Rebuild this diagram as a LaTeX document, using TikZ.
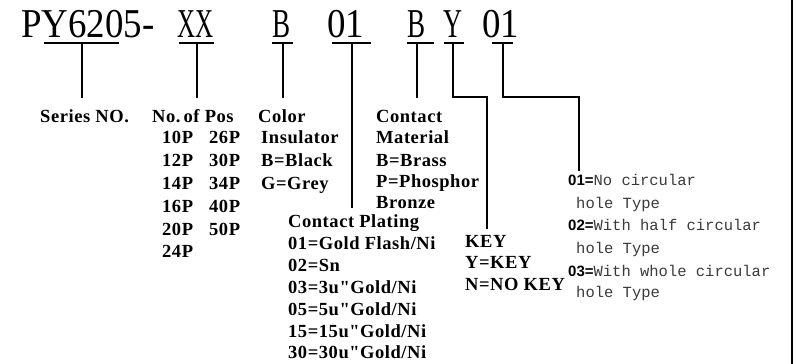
\documentclass[tikz,border=0pt]{standalone}
\usepackage{fontspec}
\setmainfont{Liberation Serif}
\newfontfamily\bodyfont[LetterSpace=3]{Liberation Serif}
\newfontfamily\rmono{Liberation Mono}
\newfontfamily\rsans{Liberation Sans}
\definecolor{rgray}{HTML}{3A3A3A}
\newcommand{\numlbl}[1]{{\rsans\bfseries\fontsize{15}{18}\selectfont\color{black}#1}}
\tikzset{
  ttl/.style={anchor=base west, inner sep=0pt, font=\fontsize{41}{43}\selectfont},
  lbl/.style={anchor=base west, inner sep=0pt, font=\bodyfont\bfseries\fontsize{18.5}{20}\selectfont},
  rlbl/.style={anchor=base west, inner sep=0pt, text=rgray, font=\rmono\fontsize{15.5}{18}\selectfont},
  lead/.style={line width=2.2pt, line cap=rect}
}
\begin{document}
\begin{tikzpicture}[x=1pt,y=-1pt]
\useasboundingbox (0,0) rectangle (796,364);
\fill[white] (0,0) rectangle (796,364);
% right border
\coordinate (bt) at (792,0); \coordinate (bb) at (792,364);
\draw[line width=2.7pt] (bt) -- (bb);

% title segments
\node[ttl] (s1) at (21,37) {\scalebox{0.9}[1]{PY6205-}};
\node[ttl] (s2) at (177,37) {\scalebox{0.61}[1]{XX}};
\node[ttl] (s3) at (272,37) {\scalebox{0.66}[1]{B}};
\node[ttl] (s4) at (327,37) {\scalebox{0.9}[1]{01}};
\node[ttl] (s5) at (407,37) {\scalebox{0.66}[1]{B}};
\node[ttl] (s6) at (443,37) {\scalebox{0.64}[1]{Y}};
\node[ttl] (s7) at (482,37) {\scalebox{0.9}[1]{01}};

% labels
\node[lbl] (series) at (40,122) {Series NO.};
\node[lbl] (pos) at (152,122) {No.\,of Pos};
\node[lbl] (p10) at (162,143) {10P};
\node[lbl] (p12) at (162,166) {12P};
\node[lbl] (p14) at (162,189) {14P};
\node[lbl] (p16) at (162,212) {16P};
\node[lbl] (p20) at (162,235) {20P};
\node[lbl] (p24) at (162,257) {24P};
\node[lbl] (p26) at (209,143) {26P};
\node[lbl] (p30) at (209,166) {30P};
\node[lbl] (p34) at (209,189) {34P};
\node[lbl] (p40) at (209,212) {40P};
\node[lbl] (p50) at (209,235) {50P};

\node[lbl] (color) at (258,122) {Color};
\node[lbl] (ins) at (261,143) {Insulator};
\node[lbl] (blk) at (261,166) {B=Black};
\node[lbl] (gry) at (261,189) {G=Grey};

\node[lbl] (cm1) at (376,122) {Contact};
\node[lbl] (cm2) at (376,143) {Material};
\node[lbl] (cm3) at (376,166) {B=Brass};
\node[lbl] (cm4) at (376,187) {P=Phosphor};
\node[lbl] (cm5) at (376,208) {Bronze};

\node[lbl] (cp0) at (288,227) {Contact Plating};
\node[lbl] (cp1) at (288,249) {01=Gold Flash/Ni};
\node[lbl] (cp2) at (288,271) {02=Sn};
\node[lbl] (cp3) at (288,293) {03=3u"Gold/Ni};
\node[lbl] (cp4) at (288,315) {05=5u"Gold/Ni};
\node[lbl] (cp5) at (288,337) {15=15u"Gold/Ni};
\node[lbl] (cp6) at (288,358) {30=30u"Gold/Ni};

\node[lbl] (k0) at (465,247) {KEY};
\node[lbl] (k1) at (465,268) {Y=KEY};
\node[lbl] (k2) at (465,290) {N=NO KEY};

\node[rlbl] (h1) at (568,185) {\numlbl{01=}No circular};
\node[rlbl] (h1b) at (576,208) {hole Type};
\node[rlbl] (h2) at (568,230) {\numlbl{02=}With half circular};
\node[rlbl] (h2b) at (576,253) {hole Type};
\node[rlbl] (h3) at (568,276) {\numlbl{03=}With whole circular};
\node[rlbl] (h3b) at (576,297) {hole Type};

% leader coordinates
\coordinate (a1) at (45,43);  \coordinate (b1) at (118,43); \coordinate (e1) at (82,97);
\coordinate (a2) at (180,43); \coordinate (b2) at (213,43); \coordinate (e2) at (197,97);
\coordinate (a3) at (273,43); \coordinate (b3) at (292,43); \coordinate (e3) at (283,97);
\coordinate (a4) at (333,43); \coordinate (b4) at (370,43); \coordinate (e4) at (352,207);
\coordinate (a5) at (408,43); \coordinate (b5) at (433,43); \coordinate (e5) at (417,97);
\coordinate (a6) at (445,43); \coordinate (b6) at (463,43); \coordinate (m6) at (453,97); \coordinate (e6) at (487,228);
\coordinate (a7) at (493,43); \coordinate (b7) at (512,43); \coordinate (m7) at (503,97); \coordinate (e7) at (579,170);

\draw[lead] (a1) -- (b1) (a1 -| e1) -- (e1);
\draw[lead] (a2) -- (b2) (a2 -| e2) -- (e2);
\draw[lead] (a3) -- (b3) (a3 -| e3) -- (e3);
\draw[lead] (a4) -- (b4) (a4 -| e4) -- (e4);
\draw[lead] (a5) -- (b5) (a5 -| e5) -- (e5);
\draw[lead] (a6) -- (b6) (a6 -| m6) -- (m6) -| (e6);
\draw[lead] (a7) -- (b7) (a7 -| m7) -- (m7) -| (e7);
\end{tikzpicture}
\end{document}
